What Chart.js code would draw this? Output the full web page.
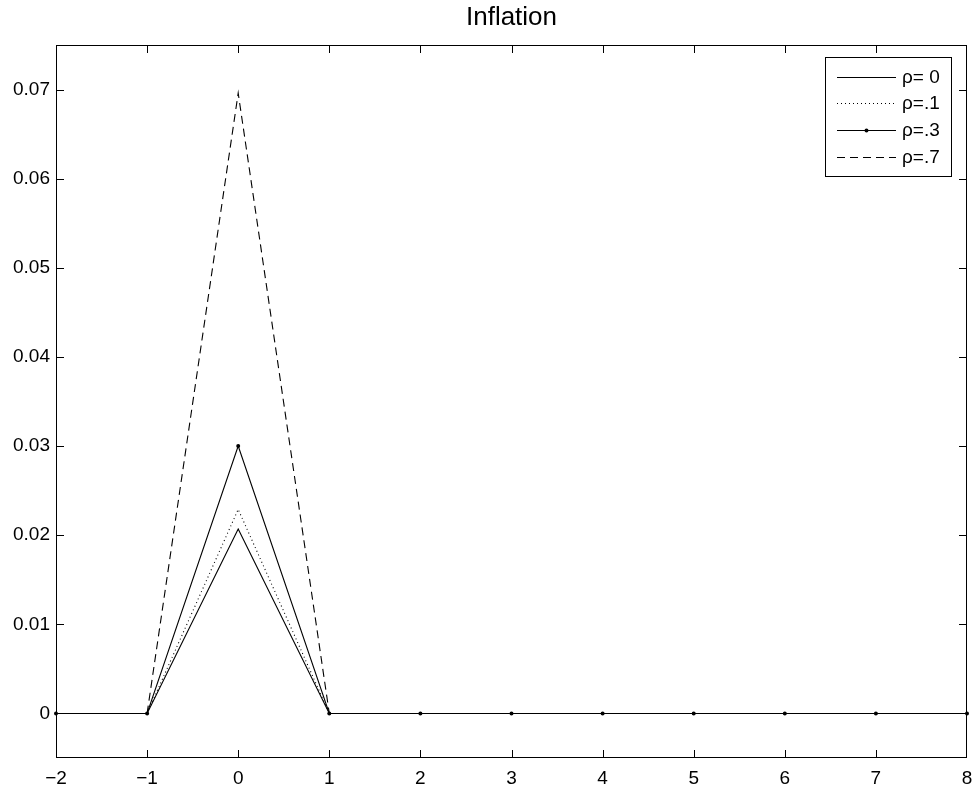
<!DOCTYPE html>
<html>
<head>
<meta charset="utf-8">
<script src="https://cdn.jsdelivr.net/npm/chart.js@4.4.1/dist/chart.umd.min.js"></script>
<style>
  html, body { margin: 0; padding: 0; background: #fff; }
  #wrap { width: 972px; height: 790px; }
</style>
</head>
<body>
<div id="wrap"><canvas id="chart"></canvas></div>
<script>
// --- data ---
const periods = [-2, -1, 0, 1, 2, 3, 4, 5, 6, 7, 8];
const rho0  = [0, 0, 0.0207, 0, 0, 0, 0, 0, 0, 0, 0];
const rho1  = [0, 0, 0.0229, 0, 0, 0, 0, 0, 0, 0, 0];
const rho3  = [0, 0, 0.0300, 0, 0, 0, 0, 0, 0, 0, 0];
const rho7  = [0, 0, 0.0696, 0, 0, 0, 0, 0, 0, 0, 0];
const seriesNames = ['\u03C1= 0', '\u03C1=.1', '\u03C1=.3', '\u03C1=.7'];
const yTicks = [0, 0.01, 0.02, 0.03, 0.04, 0.05, 0.06, 0.07];
const xTicks = [-2, -1, 0, 1, 2, 3, 4, 5, 6, 7, 8];

const FONT = '"Liberation Sans", Arial, Helvetica, sans-serif';
const toPts = arr => arr.map((v, i) => ({ x: periods[i], y: v }));

// MATLAB-style frame: box, inward ticks, legend box
const framePlugin = {
    id: 'frame',
    afterDatasetsDraw(chart) {
        const { ctx, chartArea: a, scales } = chart;
        ctx.save();
        ctx.strokeStyle = '#000';
        ctx.lineWidth = 1;
        ctx.strokeRect(a.left + 0.5, a.top + 0.5, a.right - a.left - 1, a.bottom - a.top - 1);
        const tl = 8;
        ctx.beginPath();
        xTicks.forEach(v => {
            const px = Math.min(Math.round(scales.x.getPixelForValue(v)) + 0.5, a.right - 0.5);
            ctx.moveTo(px, a.bottom); ctx.lineTo(px, a.bottom - tl);
            ctx.moveTo(px, a.top); ctx.lineTo(px, a.top + tl);
        });
        yTicks.forEach(v => {
            const py = Math.round(scales.y.getPixelForValue(v)) + 0.5;
            ctx.moveTo(a.left, py); ctx.lineTo(a.left + tl, py);
            ctx.moveTo(a.right, py); ctx.lineTo(a.right - tl, py);
        });
        ctx.stroke();

        // legend
        const bx = 825, by = 57, bw = 126, bh = 119;
        ctx.fillStyle = '#fff';
        ctx.fillRect(bx, by, bw, bh);
        ctx.strokeRect(bx + 0.5, by + 0.5, bw, bh);
        ctx.font = '19px ' + FONT;
        ctx.textBaseline = 'middle';
        chart.data.datasets.forEach((ds, i) => {
            const y = by + 19.5 + i * 26.7;
            const x0 = bx + 12, x1 = bx + 71;
            ctx.strokeStyle = '#000';
            ctx.setLineDash(ds.borderDash || []);
            ctx.beginPath();
            ctx.moveTo(x0, Math.round(y) + 0.5);
            ctx.lineTo(x1, Math.round(y) + 0.5);
            ctx.stroke();
            ctx.setLineDash([]);
            if (ds.pointRadius > 0) {
                ctx.fillStyle = '#000';
                ctx.beginPath();
                ctx.arc((x0 + x1) / 2, Math.round(y) + 0.5, 2, 0, Math.PI * 2);
                ctx.fill();
            }
            ctx.fillStyle = '#000';
            ctx.fillText(ds.label, bx + 77, y + 1);
        });
        ctx.restore();
    }
};

const lineStyle = (label, data, extra) => Object.assign({
    label: label,
    data: toPts(data),
    borderColor: '#000',
    backgroundColor: '#000',
    borderWidth: 1.1,
    pointRadius: 0,
    tension: 0
}, extra);

new Chart(document.getElementById('chart').getContext('2d'), {
    type: 'line',
    data: {
        datasets: [
            lineStyle(seriesNames[0], rho0, {}),
            lineStyle(seriesNames[1], rho1, { borderDash: [1, 3] }),
            lineStyle(seriesNames[2], rho3, { pointRadius: 2, pointBorderWidth: 0, clip: 3 }),
            lineStyle(seriesNames[3], rho7, { borderDash: [8, 5] })
        ]
    },
    options: {
        responsive: true,
        maintainAspectRatio: false,
        animation: false,
        layout: { padding: { left: 0, right: 5, top: 0, bottom: 0 } },
        plugins: {
            legend: { display: false },
            tooltip: { enabled: false },
            title: {
                display: true,
                fullSize: false,
                text: 'Inflation',
                color: '#000',
                font: { family: FONT, size: 26, weight: 'normal' },
                padding: { top: 2, bottom: 11.8 }
            }
        },
        scales: {
            x: {
                type: 'linear',
                min: -2,
                max: 8,
                afterBuildTicks: s => { s.ticks = xTicks.map(v => ({ value: v })); },
                afterFit: s => { s.height = 32; s.paddingLeft = 0; s.paddingRight = 0; },
                grid: { display: false, drawTicks: false },
                border: { display: false },
                ticks: {
                    color: '#000',
                    padding: 9,
                    font: { family: FONT, size: 19 },
                    callback: v => (v < 0 ? '\u2212' + Math.abs(v) : String(v))
                }
            },
            y: {
                min: -0.005,
                max: 0.075,
                afterBuildTicks: s => { s.ticks = yTicks.map(v => ({ value: v })); },
                afterFit: s => { s.width = 56; s.paddingTop = 0; s.paddingBottom = 0; },
                grid: { display: false, drawTicks: false },
                border: { display: false },
                ticks: {
                    color: '#000',
                    padding: 6,
                    font: { family: FONT, size: 19 },
                    callback: v => (v === 0 ? '0' : String(Math.round(v * 100) / 100))
                }
            }
        }
    },
    plugins: [framePlugin]
});
</script>
</body>
</html>
